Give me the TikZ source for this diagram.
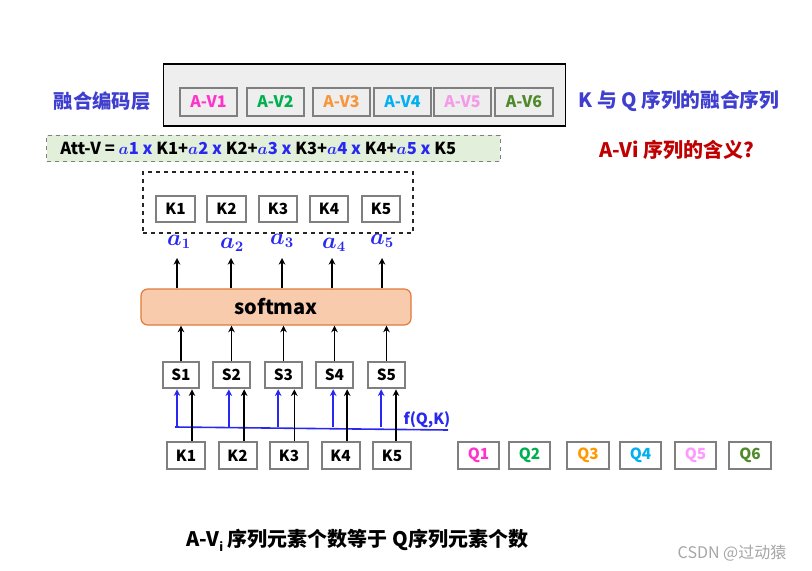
\documentclass[tikz,border=0pt]{standalone}
\usepackage{fontspec}
\setmainfont{Noto Sans CJK SC}
\usetikzlibrary{arrows.meta}
\definecolor{vA}{HTML}{FF33CC}
\definecolor{vB}{HTML}{00B050}
\definecolor{vC}{HTML}{F7963C}
\definecolor{vD}{HTML}{00B0F0}
\definecolor{vE}{HTML}{F49AE8}
\definecolor{vF}{HTML}{4F8A2A}
\definecolor{qC}{HTML}{FF9900}
\definecolor{qE}{HTML}{FF99FF}
\definecolor{tblue}{HTML}{3F3FCF}
\definecolor{abl}{HTML}{2828F0}
\definecolor{tred}{HTML}{C00000}
\definecolor{boxgray}{HTML}{7F7F7F}
\definecolor{lightfill}{HTML}{EEEEEE}
\definecolor{eqfill}{HTML}{E2EFDA}
\definecolor{smfill}{HTML}{F8CBAD}
\definecolor{smdraw}{HTML}{E07B39}
\begin{document}
\begin{tikzpicture}[x=0.75pt,y=-0.75pt,
  lbl/.style={font=\fontsize{11.5}{13}\selectfont\bfseries},
  vbox/.style={draw=boxgray,line width=1.5pt,fill=lightfill,minimum width=43pt,minimum height=21pt,inner sep=0pt,font=\fontsize{12}{13}\selectfont\bfseries},
  kbox/.style={draw=boxgray,line width=1.5pt,fill=white,minimum width=29pt,minimum height=19.5pt,inner sep=0pt,lbl},
  sbox/.style={draw=boxgray,line width=1.5pt,fill=white,minimum width=27.5pt,minimum height=20pt,inner sep=0pt,lbl},
  bkbox/.style={draw=boxgray,line width=1.5pt,fill=white,minimum width=28.5pt,minimum height=20pt,inner sep=0pt,lbl},
  qbox/.style={draw=boxgray,line width=1.5pt,fill=white,minimum width=31pt,minimum height=20pt,inner sep=0pt,lbl},
  arr/.style={line width=1.2pt,-{Stealth[length=5pt,width=5pt]}},
  barr/.style={line width=1.2pt,abl,-{Stealth[length=5pt,width=5pt]}},
  alab/.style={text=abl,font=\fontsize{16}{18}\selectfont\boldmath}
]
\useasboundingbox (0,0) rectangle (812,570);
\fill[white] (0,0) rectangle (812,570);

% top fusion layer
\node[draw=black,line width=0.9pt,fill=lightfill,minimum width=302pt,minimum height=46.5pt,inner sep=0pt] (outer) at (364.5,95) {};
\node[vbox,text=vA] (v1) at (208.5,102) {A-V1};
\node[vbox,text=vB] (v2) at (275.5,102) {A-V2};
\node[vbox,text=vC] (v3) at (341.5,102) {A-V3};
\node[vbox,text=vD] (v4) at (402.5,102) {A-V4};
\node[vbox,text=vE] (v5) at (462.5,102) {A-V5};
\node[vbox,text=vF] (v6) at (524,102) {A-V6};

\node[text=tblue,font=\fontsize{14.5}{16}\selectfont\bfseries] (layer) at (102,101) {融合编码层};
\node[text=tblue,font=\fontsize{14.8}{16}\selectfont\bfseries] (fuse) at (679,101) {K 与 Q 序列的融合序列};
\node[text=tred,font=\fontsize{15}{16}\selectfont\bfseries] (mean) at (677,150) {A-Vi 序列的含义?};

% equation
\node[draw=boxgray,dashed,line width=0.6pt,fill=eqfill,minimum width=340pt,minimum height=20pt,inner sep=0pt] (eqbox) at (273.5,148.5) {};
\node[anchor=west,inner sep=0pt,font=\fontsize{12.4}{14}\selectfont\bfseries] (eq) at (60,148) {Att-V = \textcolor{abl}{{\boldmath$a$}1 x} K1+\textcolor{abl}{{\boldmath$a$}2 x} K2+\textcolor{abl}{{\boldmath$a$}3 x} K3+\textcolor{abl}{{\boldmath$a$}4 x} K4+\textcolor{abl}{{\boldmath$a$}5 x} K5};

% dashed K group
\node[draw=black!85,dashed,line width=0.9pt,minimum width=202.5pt,minimum height=45.75pt,inner sep=0pt] (kgroup) at (278,202.5) {};
\node[kbox] (k1) at (175.5,209) {K1};
\node[kbox] (k2) at (226.5,209) {K2};
\node[kbox] (k3) at (278,209) {K3};
\node[kbox] (k4) at (329,209) {K4};
\node[kbox] (k5) at (381,209) {K5};

% a labels
\node[alab] (a1) at (179,242) {$a_1$};
\node[alab] (a2) at (232,245) {$a_2$};
\node[alab] (a3) at (282,241) {$a_3$};
\node[alab] (a4) at (334,245) {$a_4$};
\node[alab] (a5) at (382,241) {$a_5$};
\coordinate (t1) at (177,258);
\coordinate (t2) at (231,258);
\coordinate (t3) at (282,258);
\coordinate (t4) at (332,258);
\coordinate (t5) at (382,258);

% softmax
\node[draw=smdraw,fill=smfill,line width=0.9pt,rounded corners=5pt,minimum width=202.5pt,minimum height=27pt,inner sep=0pt,font=\fontsize{15}{17}\selectfont\bfseries] (sm) at (276,307) {softmax};
\foreach \i in {1,...,5} {\draw[arr] (sm.north -| t\i) -- (t\i);}

% S boxes
\node[sbox] (s1) at (181,375) {S1};
\node[sbox] (s2) at (231.5,375) {S2};
\node[sbox] (s3) at (283.5,375) {S3};
\node[sbox] (s4) at (334.5,375) {S4};
\node[sbox] (s5) at (386.5,375) {S5};
\foreach \i in {1,...,5} {\draw[arr] (s\i.north) -- (s\i.north |- sm.south);}

% bottom K boxes
\node[bkbox] (b1) at (186,455.5) {K1};
\node[bkbox] (b2) at (237.5,455.5) {K2};
\node[bkbox] (b3) at (289,455.5) {K3};
\node[bkbox] (b4) at (340.5,455.5) {K4};
\node[bkbox] (b5) at (392,455.5) {K5};

% blue f(Q,K) line
\coordinate (bl) at (175,427);
\coordinate (br) at (448,430);
\draw[abl,line width=1.2pt] (bl) -- (br);
\node[text=abl,font=\fontsize{11.5}{13}\selectfont\bfseries] (fqk) at (427,420) {f(Q,K)};
\foreach \i/\dx in {1/-3,2/-2,3/-4,4/-1,5/-4} {
  \draw[barr] ([xshift=\dx pt]s\i.south |- bl) -- ([xshift=\dx pt]s\i.south);
}
\draw[arr] ([xshift=4.5pt]b1.north) -- ([xshift=4.5pt]b1.north |- s1.south);
\draw[arr] ([xshift=5pt]b2.north) -- ([xshift=5pt]b2.north |- s2.south);
\draw[arr] ([xshift=4pt]b3.north) -- ([xshift=4pt]b3.north |- s3.south);
\draw[arr] ([xshift=5pt]b4.north) -- ([xshift=5pt]b4.north |- s4.south);
\draw[arr] ([xshift=3pt]b5.north) -- ([xshift=3pt]b5.north |- s5.south);

% Q boxes
\node[qbox,text=vA] (q1) at (478.5,455.5) {Q1};
\node[qbox,text=vB] (q2) at (529.5,455.5) {Q2};
\node[qbox,text=qC] (q3) at (588,455.5) {Q3};
\node[qbox,text=vD] (q4) at (640.5,455.5) {Q4};
\node[qbox,text=qE] (q5) at (695.5,455.5) {Q5};
\node[qbox,text=vF] (q6) at (750,455.5) {Q6};

% bottom note
\node[font=\fontsize{15}{17}\selectfont\bfseries] (note) at (357,540) {A-V\raisebox{-0.45ex}{\fontsize{9}{10}\selectfont i} 序列元素个数等于 Q序列元素个数};
\node[text=black!35,font=\fontsize{12}{13}\selectfont] (wm) at (732,553) {CSDN @过动猿};
\end{tikzpicture}
\end{document}
